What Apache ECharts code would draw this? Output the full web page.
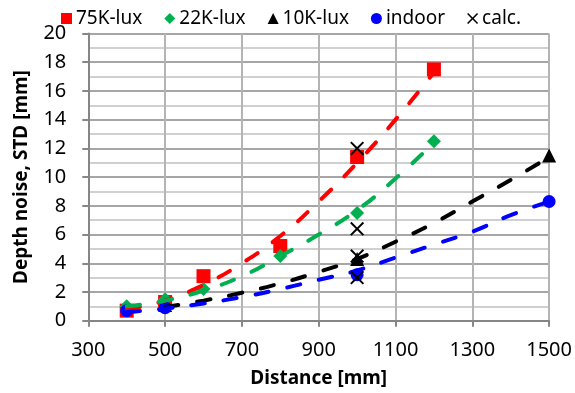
<!DOCTYPE html>
<html><head><meta charset="utf-8">
<script src="https://cdn.jsdelivr.net/npm/echarts@6/dist/echarts.min.js"></script>
<style>html,body{margin:0;padding:0;background:#fff}#c{width:575px;height:393px}</style>
</head><body><div id="c"></div>
<script>
// Measured points
const lux75X = [400, 500, 600, 800, 1000, 1200];
const lux75Y = [0.7, 1.3, 3.1, 5.2, 11.4, 17.5];
const lux22X = [400, 500, 600, 800, 1000, 1200];
const lux22Y = [1.0, 1.5, 2.2, 4.5, 7.5, 12.5];
const lux10X = [500, 1000, 1500];
const lux10Y = [1.1, 4.3, 11.5];
const indoorX = [400, 500, 1000, 1500];
const indoorY = [0.7, 0.9, 3.2, 8.3];
const calcX = [1000, 1000, 1000, 1000];
const calcY = [12.0, 6.4, 4.5, 3.0];
// Trendlines
const trend75X = [400, 500, 600, 700, 800, 900, 1000, 1100, 1200];
const trend75Y = [0.8, 1.4, 2.5, 4.0, 5.9, 8.3, 11.0, 14.0, 17.3];
const trend22X = [400, 500, 600, 700, 800, 900, 1000, 1100, 1200];
const trend22Y = [1.0, 1.4, 2.1, 3.1, 4.5, 6.0, 7.7, 9.9, 12.4];
const trend10X = [500, 600, 700, 800, 900, 1000, 1100, 1200, 1300, 1400, 1500];
const trend10Y = [0.95, 1.4, 1.95, 2.6, 3.4, 4.3, 5.5, 6.8, 8.3, 9.8, 11.4];
const trendInX = [400, 500, 600, 700, 800, 900, 1000, 1100, 1200, 1300, 1400, 1500];
const trendInY = [0.6, 0.85, 1.2, 1.65, 2.2, 2.85, 3.5, 4.4, 5.3, 6.2, 7.35, 8.3];
// Axis labels
const xTickLabels = [300, 500, 700, 900, 1100, 1300, 1500];
const seriesNames = ['75K-lux', '22K-lux', '10K-lux', 'indoor', 'calc.'];

const FONT = '"Noto Sans", "Open Sans", sans-serif';
const zip = (a, b) => a.map((v, i) => [v, b[i]]);
const crossPath = 'path://M0,10L10,0L50,40L90,0L100,10L60,50L100,90L90,100L50,60L10,100L0,90L40,50Z';
const trendLine = (name, xs, ys, color) => ({
  name: name, type: 'line', data: zip(xs, ys), smooth: true, showSymbol: false, symbol: 'none',
  silent: true, z: 3,
  lineStyle: { color: color, width: 4, type: [13.5, 19], cap: 'round' }
});
const scatter = (name, xs, ys, color, symbol, size, z) => ({
  name: name, type: 'scatter', data: zip(xs, ys), symbol: symbol, symbolSize: size, z: z,
  itemStyle: { color: color, opacity: 1 }
});

const chart = echarts.init(document.getElementById('c'), null, { renderer: 'canvas' });
chart.setOption({
  animation: false,
  backgroundColor: '#fff',
  textStyle: { fontFamily: FONT },
  legend: {
    data: [
      { name: seriesNames[0], icon: 'rect' },
      { name: seriesNames[1], icon: 'diamond' },
      { name: seriesNames[2], icon: 'triangle' },
      { name: seriesNames[3], icon: 'circle' },
      { name: seriesNames[4], icon: crossPath }
    ],
    left: 56, top: 4, itemWidth: 11, itemHeight: 11, itemGap: 22,
    textStyle: { fontSize: 19, color: '#000', fontFamily: FONT, padding: [0, 0, 0, -1] }
  },
  grid: { left: 88.3, right: 24.5, top: 33.5, bottom: 72.3, containLabel: false },
  xAxis: {
    type: 'value', min: 300, max: 1500, interval: 100,
    name: 'Distance [mm]', nameLocation: 'middle', nameGap: 48,
    nameTextStyle: { fontSize: 19, fontWeight: 'bold', color: '#000', fontFamily: FONT },
    axisLine: { show: true, lineStyle: { color: '#868686', width: 2 } },
    axisTick: { show: true, length: 6, lineStyle: { color: '#868686', width: 2 }, customValues: xTickLabels },
    axisLabel: { fontSize: 20, color: '#000', margin: 20, fontFamily: FONT, customValues: xTickLabels,
      formatter: v => String(v) },
    splitLine: { show: true, lineStyle: { color: '#b4b4b4', width: 2 } }
  },
  yAxis: {
    type: 'value', min: 0, max: 20, interval: 2,
    name: 'Depth noise, STD [mm]', nameLocation: 'middle', nameGap: 57, nameRotate: 90,
    nameTextStyle: { fontSize: 19, fontWeight: 'bold', color: '#000', fontFamily: FONT },
    axisLine: { show: true, lineStyle: { color: '#868686', width: 2 } },
    axisTick: { show: true, length: 6, lineStyle: { color: '#868686', width: 2 } },
    axisLabel: { fontSize: 20, color: '#000', margin: 22, fontFamily: FONT },
    splitLine: { show: true, lineStyle: { color: '#a6a6a6', width: 2 } },
    minorTick: { show: false, splitNumber: 2 },
    minorSplitLine: { show: true, lineStyle: { color: '#d0d0d0', width: 2 } }
  },
  series: [
    scatter(seriesNames[0], lux75X, lux75Y, '#ff0000', 'rect', 14, 2),
    scatter(seriesNames[1], lux22X, lux22Y, '#00b050', 'diamond', 14, 2),
    scatter(seriesNames[2], lux10X, lux10Y, '#000000', 'triangle', 14, 2),
    scatter(seriesNames[3], indoorX, indoorY, '#0000ff', 'circle', 13, 2),
    trendLine('t75', trend75X, trend75Y, '#ff0000'),
    trendLine('t22', trend22X, trend22Y, '#00b050'),
    trendLine('t10', trend10X, trend10Y, '#000000'),
    trendLine('tin', trendInX, trendInY, '#0000ff'),
    scatter(seriesNames[4], calcX, calcY, '#000000', crossPath, 14, 5)
  ]
});
</script></body></html>
